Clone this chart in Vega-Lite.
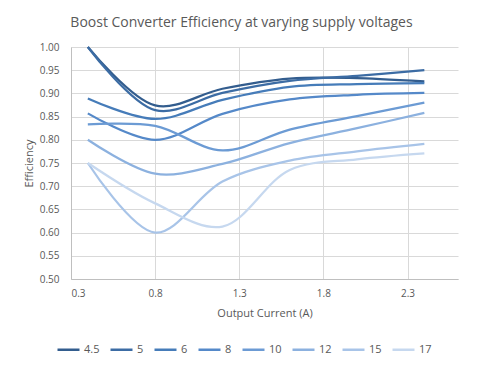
{
  "$schema": "https://vega.github.io/schema/vega-lite/v6.json",
  "width": 387,
  "height": 232,
  "autosize": {"type": "none"},
  "padding": {"left": 71, "top": 47, "right": 23, "bottom": 91},
  "background": "white",
  "title": {
    "text": "Boost Converter Efficiency at varying supply voltages",
    "font": "Open Sans",
    "fontSize": 14,
    "fontWeight": "normal",
    "color": "#595959",
    "anchor": "middle",
    "dx": -23,
    "offset": 12
  },
  "data": {
    "values": [
      {"V": "4.5", "I": 0.4, "E": 1.0},
      {"V": "4.5", "I": 0.8, "E": 0.874},
      {"V": "4.5", "I": 1.2, "E": 0.910},
      {"V": "4.5", "I": 1.6, "E": 0.932},
      {"V": "4.5", "I": 2.0, "E": 0.933},
      {"V": "4.5", "I": 2.4, "E": 0.926},
      {"V": "5", "I": 0.4, "E": 1.0},
      {"V": "5", "I": 0.8, "E": 0.864},
      {"V": "5", "I": 1.2, "E": 0.901},
      {"V": "5", "I": 1.6, "E": 0.927},
      {"V": "5", "I": 2.0, "E": 0.938},
      {"V": "5", "I": 2.4, "E": 0.950},
      {"V": "6", "I": 0.4, "E": 0.889},
      {"V": "6", "I": 0.8, "E": 0.845},
      {"V": "6", "I": 1.2, "E": 0.886},
      {"V": "6", "I": 1.6, "E": 0.914},
      {"V": "6", "I": 2.0, "E": 0.920},
      {"V": "6", "I": 2.4, "E": 0.922},
      {"V": "8", "I": 0.4, "E": 0.857},
      {"V": "8", "I": 0.8, "E": 0.800},
      {"V": "8", "I": 1.2, "E": 0.856},
      {"V": "8", "I": 1.6, "E": 0.887},
      {"V": "8", "I": 2.0, "E": 0.897},
      {"V": "8", "I": 2.4, "E": 0.901},
      {"V": "10", "I": 0.4, "E": 0.833},
      {"V": "10", "I": 0.8, "E": 0.830},
      {"V": "10", "I": 1.2, "E": 0.777},
      {"V": "10", "I": 1.6, "E": 0.822},
      {"V": "10", "I": 2.0, "E": 0.851},
      {"V": "10", "I": 2.4, "E": 0.880},
      {"V": "12", "I": 0.4, "E": 0.800},
      {"V": "12", "I": 0.8, "E": 0.727},
      {"V": "12", "I": 1.2, "E": 0.748},
      {"V": "12", "I": 1.6, "E": 0.793},
      {"V": "12", "I": 2.0, "E": 0.825},
      {"V": "12", "I": 2.4, "E": 0.858},
      {"V": "15", "I": 0.4, "E": 0.750},
      {"V": "15", "I": 0.8, "E": 0.600},
      {"V": "15", "I": 1.2, "E": 0.710},
      {"V": "15", "I": 1.6, "E": 0.755},
      {"V": "15", "I": 2.0, "E": 0.775},
      {"V": "15", "I": 2.4, "E": 0.791},
      {"V": "17", "I": 0.4, "E": 0.750},
      {"V": "17", "I": 0.8, "E": 0.663},
      {"V": "17", "I": 1.2, "E": 0.613},
      {"V": "17", "I": 1.6, "E": 0.735},
      {"V": "17", "I": 2.0, "E": 0.758},
      {"V": "17", "I": 2.4, "E": 0.771}
    ]
  },
  "mark": {"type": "line", "interpolate": "catmull-rom", "strokeWidth": 2.25},
  "encoding": {
    "x": {
      "field": "I",
      "type": "quantitative",
      "scale": {"domain": [0.3, 2.6], "nice": false, "zero": false},
      "axis": {
        "title": "Output Current (A)",
        "values": [0.3, 0.8, 1.3, 1.8, 2.3],
        "format": ".1f",
        "grid": true,
        "gridColor": "#d9d9d9",
        "domainColor": "#bfbfbf",
        "ticks": false,
        "labelPadding": 9,
        "titlePadding": 9
      }
    },
    "y": {
      "field": "E",
      "type": "quantitative",
      "scale": {"domain": [0.5, 1.0], "nice": false, "zero": false},
      "axis": {
        "title": "Efficiency",
        "values": [0.5, 0.55, 0.6, 0.65, 0.7, 0.75, 0.8, 0.85, 0.9, 0.95, 1.0],
        "format": ".2f",
        "grid": true,
        "gridColor": "#d9d9d9",
        "domainColor": "#bfbfbf",
        "ticks": false,
        "labelPadding": 12,
        "titlePadding": 5
      }
    },
    "color": {
      "field": "V",
      "type": "nominal",
      "sort": ["4.5", "5", "6", "8", "10", "12", "15", "17"],
      "scale": {
        "domain": ["4.5", "5", "6", "8", "10", "12", "15", "17"],
        "range": ["#335d8e", "#3c6ca4", "#467cb9", "#5589c9", "#6c9bd4", "#8cb1df", "#a8c4e8", "#c6d8ef"]
      },
      "legend": {
        "title": null,
        "orient": "none",
        "legendX": -15,
        "legendY": 290,
        "direction": "horizontal",
        "columns": 8,
        "symbolType": "stroke",
        "symbolSize": 484,
        "symbolStrokeWidth": 2.5,
        "labelFontSize": 11,
        "labelOffset": 3,
        "columnPadding": 5
      }
    }
  },
  "config": {
    "font": "Open Sans",
    "view": {"stroke": null},
    "axis": {
      "labelFont": "Open Sans",
      "labelFontSize": 10,
      "labelColor": "#595959",
      "titleFont": "Open Sans",
      "titleFontSize": 11,
      "titleFontWeight": "normal",
      "titleColor": "#595959"
    },
    "legend": {
      "labelFont": "Open Sans",
      "labelColor": "#595959"
    }
  }
}
